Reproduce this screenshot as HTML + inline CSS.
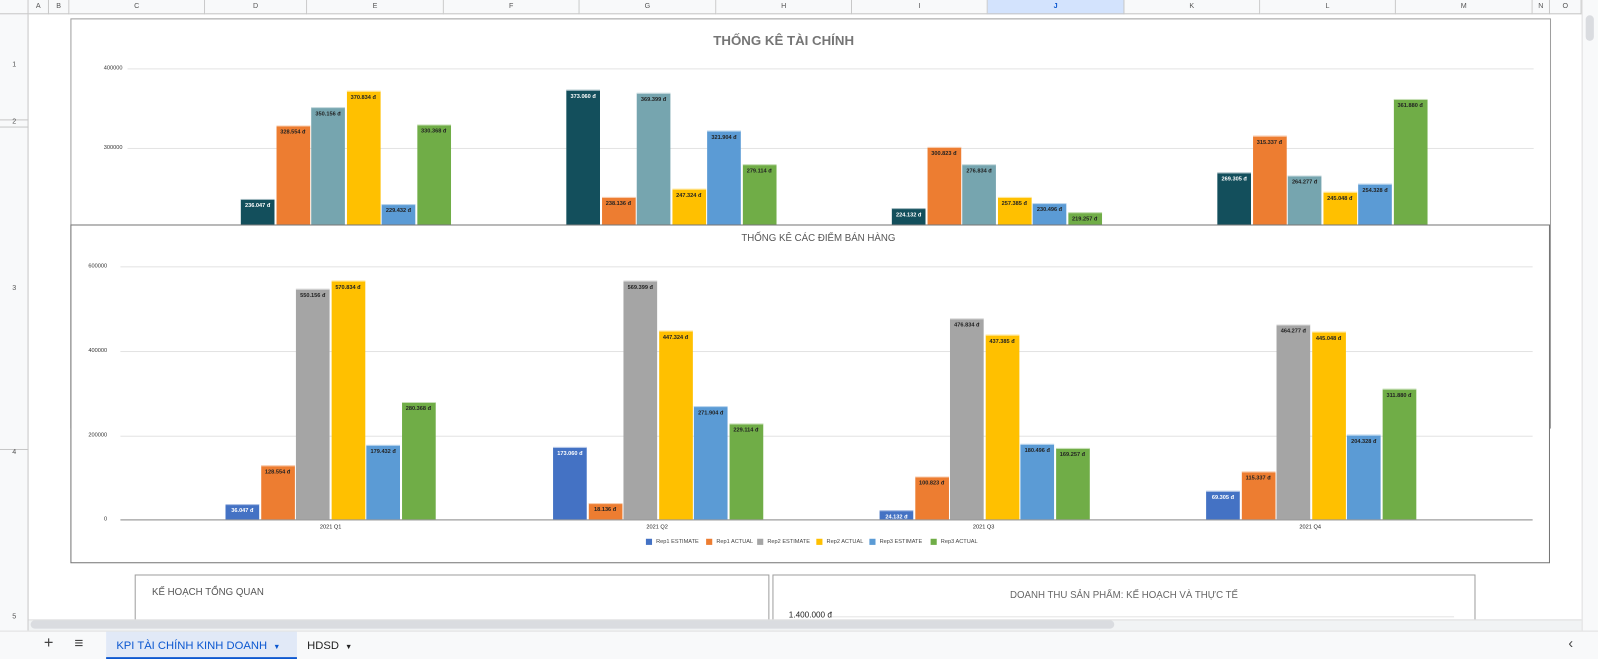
<!DOCTYPE html>
<html><head><meta charset="utf-8">
<style>
*{box-sizing:border-box;margin:0;padding:0}
html,body{width:1600px;height:659px;overflow:hidden;background:#fff}
body{font-family:"Liberation Sans",sans-serif;position:relative}
#wrap{position:absolute;left:0;top:0;width:1568px;height:646px;transform:scale(1.0204);transform-origin:0 0}
.a{position:absolute}
.ch{position:absolute;top:0;height:14px;border-right:1px solid #c7c7c7;border-bottom:1px solid #c7c7c7;background:#f8f9fa;font-size:7px;color:#555;text-align:center;line-height:14px}
.rh{position:absolute;left:0;width:28px;font-size:7px;color:#555;text-align:center}
.bar{position:absolute}
.lb{position:absolute;font-size:5.5px;font-weight:bold;text-align:center;white-space:nowrap}
.gl{position:absolute;height:1px;background:#e3e3e3}
.yl{position:absolute;font-size:5.5px;color:#333;text-align:right;width:40px}
</style></head><body><div id="wrap">
<div class="a" style="left:0;top:0;width:1550px;height:14px;background:#f8f9fa;border-bottom:1px solid #c7c7c7"></div>
<div class="a" style="left:0;top:0;width:28px;height:618px;background:#f8f9fa;border-right:1px solid #c7c7c7"></div>
<div id="cols"></div>
<div class="rh" style="top:60px">1</div>
<div class="a" style="left:0;top:117px;width:28px;height:1px;background:#c7c7c7"></div>
<div class="rh" style="top:116px">2</div>
<div class="a" style="left:0;top:124px;width:28px;height:1px;background:#c7c7c7"></div>
<div class="rh" style="top:279px">3</div>
<div class="a" style="left:0;top:440px;width:28px;height:1px;background:#c7c7c7"></div>
<div class="rh" style="top:440px">4</div>
<div class="rh" style="top:601px">5</div>

<div class="a" style="left:69px;top:18px;width:1451px;height:402px;border:1px solid #9e9e9e;background:#fff"></div>
<div class="a" style="left:69px;top:32px;width:1398px;text-align:center;font-size:13px;font-weight:bold;color:#757575">THỐNG KÊ TÀI CHÍNH</div>
<div class="gl" style="left:125px;top:67px;width:1378px"></div>
<div class="gl" style="left:125px;top:145px;width:1378px"></div>
<div class="yl" style="left:80px;top:64px">400000</div>
<div class="yl" style="left:80px;top:142px">300000</div>
<div id="c1"></div>

<div class="a" style="left:69px;top:220px;width:1450px;height:332px;border:1px solid #757575;background:#fff"></div>
<div class="a" style="left:69px;top:228px;width:1466px;text-align:center;font-size:9.5px;color:#555">THỐNG KÊ CÁC ĐIỂM BÁN HÀNG</div>
<div class="gl" style="left:118px;top:261px;width:1384px"></div>
<div class="gl" style="left:118px;top:344px;width:1384px"></div>
<div class="gl" style="left:118px;top:427px;width:1384px"></div>
<div class="a" style="left:118px;top:509px;width:1384px;height:1px;background:#888"></div>
<div class="yl" style="left:65px;top:258px">600000</div>
<div class="yl" style="left:65px;top:341px">400000</div>
<div class="yl" style="left:65px;top:424px">200000</div>
<div class="yl" style="left:65px;top:506px">0</div>
<div id="c2"></div>
<div id="leg"></div>

<div class="a" style="left:132px;top:563px;width:622px;height:60px;border:1px solid #9e9e9e"></div>
<div class="a" style="left:149px;top:575px;font-size:9.5px;color:#555">KẾ HOẠCH TỔNG QUAN</div>
<div class="a" style="left:757px;top:563px;width:689px;height:60px;border:1px solid #9e9e9e"></div>
<div class="a" style="left:757px;top:578px;width:689px;text-align:center;font-size:9.5px;color:#666">DOANH THU SẢN PHẨM: KẾ HOẠCH VÀ THỰC TẾ</div>
<div class="a" style="left:773px;top:598px;font-size:8px;color:#222">1.400.000 đ</div>
<div class="gl" style="left:815px;top:604px;width:610px"></div>

<div class="a" style="left:28px;top:607px;width:1522px;height:11px;background:#f1f3f4;border-top:1px solid #ddd"></div>
<div class="a" style="left:30px;top:608px;width:1062px;height:8px;background:#dadce0;border-radius:4px"></div>
<div class="a" style="left:1550px;top:0;width:16px;height:618px;background:#f8f9fa;border-left:1px solid #e0e0e0"></div>
<div class="a" style="left:1554px;top:15px;width:8px;height:25px;background:#dadce0;border-radius:4px"></div>
<div class="a" style="left:1566px;top:0;width:2px;height:646px;background:#fff"></div>

<div class="a" style="left:0;top:618px;width:1566px;height:28px;background:#f8f9fa;border-top:1px solid #e0e0e0"></div>
<div class="a" style="left:43px;top:622px;font-size:16px;color:#444">+</div>
<div class="a" style="left:73px;top:622px;font-size:15px;color:#444">≡</div>
<div class="a" style="left:104px;top:619px;width:187px;height:27px;background:#e1e9f7;border-bottom:2px solid #0b57d0"></div>
<div class="a" style="left:114px;top:627px;font-size:11px;color:#0b57d0">KPI TÀI CHÍNH KINH DOANH&nbsp; <span style="font-size:7px">▼</span></div>
<div class="a" style="left:301px;top:627px;font-size:11px;color:#222">HDSD&nbsp; <span style="font-size:7px">▼</span></div>
<div class="a" style="left:1537px;top:622px;font-size:14px;color:#444">‹</div>

<script>
var cols=[["",0,28],["A",28,48],["B",48,68],["C",68,201],["D",201,301],["E",301,435],["F",435,568],["G",568,702],["H",702,835],["I",835,968],["J",968,1102],["K",1102,1235],["L",1235,1368],["M",1368,1502],["N",1502,1519],["O",1519,1550]];
var h="";cols.forEach(function(c){h+='<div class="ch" style="left:'+c[1]+'px;width:'+(c[2]-c[1])+'px;'+(c[0]=="J"?'background:#d3e3fd;color:#0b57d0;font-weight:bold':'')+'">'+c[0]+'</div>'});
document.getElementById("cols").innerHTML=h;
function chart(id,starts,tops,labels,colors,base,darkIdx){
 var s="";
 for(var g=0;g<4;g++)for(var i=0;i<6;i++){
  var x=starts[g]+i*34.5,t=tops[g][i];
  s+='<div class="bar" style="left:'+x+'px;top:'+t+'px;width:33px;height:'+(base-t)+'px;background:'+colors[i]+';border-top:1px solid rgba(255,255,255,.6)"></div>';
  var col=(darkIdx.indexOf(i)>=0)?'#fff':'#222';
  s+='<div class="lb" style="left:'+x+'px;top:'+(t+4)+'px;width:33px;color:'+col+'">'+labels[g][i]+' đ</div>';
 }
 document.getElementById(id).innerHTML=s;
}
chart("c1",[236,555,874,1193],
 [[195,123,105,89,200,122],[88,193,91,185,128,161],[204,144,161,193,199,208],[169,133,172,188,180,97]],
 [["236.047","328.554","350.156","370.834","229.432","330.368"],["373.060","238.136","369.399","247.324","321.904","279.114"],["224.132","300.823","276.834","257.385","230.496","219.257"],["269.305","315.337","264.277","245.048","254.328","361.880"]],
 ["#134f5c","#ed7d31","#76a5af","#ffc000","#5b9bd5","#70ad47"],220,[0]);
chart("c2",[221,542,862,1182],
 [[494,456,283,275,436,394],[438,493,275,324,398,415],[500,467,312,328,435,439],[481,462,318,325,426,381]],
 [["36.047","128.554","550.156","570.834","179.432","280.368"],["173.060","18.136","569.399","447.324","271.904","229.114"],["24.132","100.823","476.834","437.385","180.496","169.257"],["69.305","115.337","464.277","445.048","204.328","311.880"]],
 ["#4472c4","#ed7d31","#a5a5a5","#ffc000","#5b9bd5","#70ad47"],509,[0]);
var q=["2021 Q1","2021 Q2","2021 Q3","2021 Q4"],cx=[324,644,964,1284],l="";
for(var i=0;i<4;i++)l+='<div class="lb" style="left:'+(cx[i]-30)+'px;top:514px;width:60px;font-weight:normal;color:#222">'+q[i]+'</div>';
var ln=["Rep1 ESTIMATE","Rep1 ACTUAL","Rep2 ESTIMATE","Rep2 ACTUAL","Rep3 ESTIMATE","Rep3 ACTUAL"],lx=[633,692,742,800,852,912],lc=["#4472c4","#ed7d31","#a5a5a5","#ffc000","#5b9bd5","#70ad47"];
for(var i=0;i<6;i++)l+='<div class="a" style="left:'+lx[i]+'px;top:528px;width:6px;height:6px;background:'+lc[i]+'"></div><div class="a" style="left:'+(lx[i]+10)+'px;top:528px;font-size:5.5px;color:#444">'+ln[i]+'</div>';
document.getElementById("leg").innerHTML=l;
</script>
</div></body></html>
